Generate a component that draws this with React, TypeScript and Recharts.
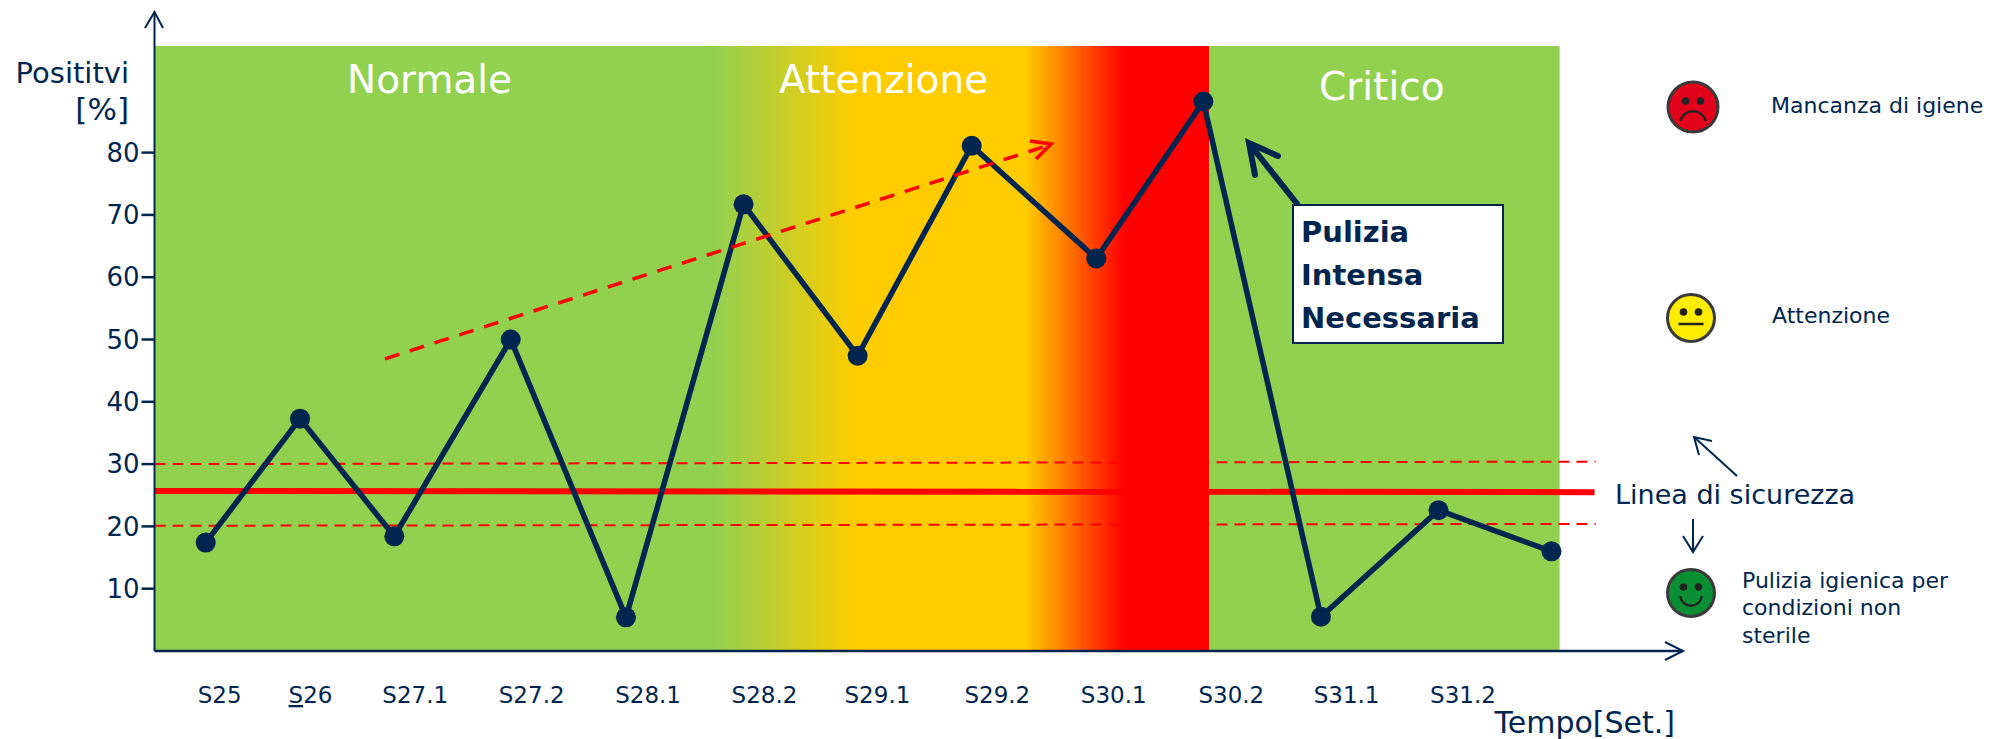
import React from 'react';
import { ComposedChart, Line, XAxis, YAxis, ReferenceArea, ReferenceLine } from 'recharts';

const NAVY = '#00264f';
const GREEN = '#92d050';
const YELLOW = '#ffcc00';
const RED = '#ff0000';
const FONT = '"DejaVu Sans", sans-serif';

const weekLabels = ['S25', 'S26', 'S27.1', 'S27.2', 'S28.1', 'S28.2', 'S29.1', 'S29.2', 'S30.1', 'S30.2', 'S31.1', 'S31.2'];
const weekTicks = [0.56, 1.34, 2.24, 3.24, 4.24, 5.24, 6.21, 7.24, 8.24, 9.25, 10.24, 11.24];

const sampleWeeks = [0.44, 1.25, 2.06, 3.06, 4.05, 5.06, 6.04, 7.02, 8.09, 9.01, 10.02, 11.03, 12.0];
const positives = [17.4, 37.3, 18.4, 50, 5.4, 71.7, 47.4, 81.1, 63, 88.2, 5.5, 22.6, 16];

const yTicks = [10, 20, 30, 40, 50, 60, 70, 80];

const trendWeeks = [1.98, 7.7];
const trendValues = [46.9, 81.3];

const samples = sampleWeeks.map((week, i) => ({ week, positive: positives[i] }));
const trend = trendWeeks.map((week, i) => ({ week, value: trendValues[i] }));

const X_MAX = 13.13;
const Y_MAX = 102.57;
const BAND_TOP = 97.1;
const BAND_SPLIT = 9.06;
const BAND_END = 12.07;

function WeekTick({ x, y, payload }: any) {
  const label = weekLabels[weekTicks.indexOf(payload.value)] ?? '';
  return (
    <text x={x} y={y + 44} textAnchor="middle" fontSize={23} fill={NAVY} fontFamily={FONT}>
      {label === 'S26' ? (
        <>
          <tspan textDecoration="underline">S</tspan>
          <tspan>26</tspan>
        </>
      ) : (
        label
      )}
    </text>
  );
}

function Face({ cx, cy, r, fill, mouth }: { cx: number; cy: number; r: number; fill: string; mouth: string }) {
  return (
    <g transform={`translate(${cx} ${cy})`}>
      <circle r={r} fill={fill} stroke="#3a3a3a" strokeWidth={3} />
      <circle cx={-7.5} cy={-6} r={3.8} fill="#222" />
      <circle cx={7.5} cy={-6} r={3.8} fill="#222" />
      <path d={mouth} fill="none" stroke="#222" strokeWidth={2.5} />
    </g>
  );
}

// zone titles, axis captions, callout box and the smiley key on the right;
// sits in its own svg because reference areas paint over chart children
function Annotations() {
  const arrow = { fill: 'none', stroke: NAVY, strokeWidth: 2 };
  return (
    <svg
      width={1998}
      height={739}
      fontFamily={FONT}
      style={{ position: 'absolute', left: 0, top: 0, pointerEvents: 'none' }}
    >
      <polyline points="145,28 154.5,12 163,28" {...arrow} />
      <polyline points="1665,642 1683,651 1665,660" {...arrow} />

      <text x={129} y={83} textAnchor="end" fontSize={29} fill={NAVY}>Posititvi</text>
      <text x={129} y={120} textAnchor="end" fontSize={31} fill={NAVY}>[%]</text>
      <text x={1675} y={733} textAnchor="end" fontSize={30} fill={NAVY}>Tempo[Set.]</text>

      <text x={347} y={93} fontSize={39} fill="#fff">Normale</text>
      <text x={779} y={93} fontSize={39} fill="#fff">Attenzione</text>
      <text x={1319} y={100} fontSize={39} fill="#fff">Critico</text>

      <polyline points="1030,141 1051,144 1036,159" fill="none" stroke={RED} strokeWidth={3.5} />

      <line x1={1298} y1={205} x2={1252} y2={147} stroke={NAVY} strokeWidth={6} />
      <polyline points="1255,175 1249,143 1278,156" fill="none" stroke={NAVY} strokeWidth={6} strokeLinecap="round" />
      <rect x={1293} y={205} width={210} height={138} fill="#fff" stroke={NAVY} strokeWidth={2} />
      <g fontSize={29} fontWeight="bold" fill={NAVY}>
        <text x={1301} y={242}>Pulizia</text>
        <text x={1301} y={285}>Intensa</text>
        <text x={1301} y={328}>Necessaria</text>
      </g>

      <Face cx={1693} cy={107} r={25} fill="#e2001a" mouth="M-13,14 C-9,1 9,1 13,14" />
      <Face cx={1691} cy={318} r={23.5} fill="#ffed00" mouth="M-12.5,6 L12.5,6" />
      <Face cx={1691} cy={593} r={23.5} fill="#0a8f35" mouth="M-11,3 C-8,16 8,16 11,3" />

      <g fontSize={22} fill={NAVY}>
        <text x={1771} y={113}>Mancanza di igiene</text>
        <text x={1772} y={323}>Attenzione</text>
        <text x={1742} y={588}>Pulizia igienica per</text>
        <text x={1742} y={615}>condizioni non</text>
        <text x={1742} y={643}>sterile</text>
      </g>
      <text x={1615} y={504} fontSize={27} fill={NAVY}>Linea di sicurezza</text>

      <line x1={1737} y1={476} x2={1694} y2={437} {...arrow} />
      <polyline points="1712,441 1694,437 1699,455" {...arrow} />
      <line x1={1693} y1={519} x2={1693} y2={552} {...arrow} />
      <polyline points="1683,536 1693,552 1703,536" {...arrow} />
    </svg>
  );
}

export default function App() {
  return (
    <div style={{ position: 'absolute', left: 0, top: 0, width: 1998, height: 739, background: '#fff' }}>
      <ComposedChart width={1998} height={739} margin={{ top: 12, right: 315, bottom: 0, left: 0 }} data={samples}>
        <defs>
          <linearGradient id="zoneFill" x1="0" y1="0" x2="1" y2="0">
            <stop offset="0.53" stopColor={GREEN} />
            <stop offset="0.665" stopColor={YELLOW} />
            <stop offset="0.826" stopColor={YELLOW} />
            <stop offset="0.92" stopColor={RED} />
          </linearGradient>
        </defs>
        <XAxis
          type="number"
          dataKey="week"
          domain={[0, X_MAX]}
          ticks={weekTicks}
          interval={0}
          height={88}
          tickLine={false}
          tick={<WeekTick />}
          axisLine={{ stroke: NAVY, strokeWidth: 2.5 }}
        />
        <YAxis
          type="number"
          width={154.5}
          domain={[0, Y_MAX]}
          ticks={yTicks}
          interval={0}
          tickSize={13}
          tickMargin={2}
          tick={{ fill: NAVY, fontSize: 26, fontFamily: FONT }}
          tickLine={{ stroke: NAVY, strokeWidth: 2.5 }}
          axisLine={{ stroke: NAVY, strokeWidth: 2 }}
        />
        <ReferenceArea x1={0} x2={BAND_SPLIT} y1={0} y2={BAND_TOP} fill="url(#zoneFill)" fillOpacity={1} stroke="none" />
        <ReferenceArea x1={BAND_SPLIT} x2={BAND_END} y1={0} y2={BAND_TOP} fill={GREEN} fillOpacity={1} stroke="none" />
        <ReferenceLine segment={[{ x: 0, y: 30 }, { x: 12.38, y: 30.4 }]} stroke={RED} strokeWidth={2} strokeDasharray="11 7" />
        <ReferenceLine segment={[{ x: 0, y: 25.7 }, { x: 12.37, y: 25.5 }]} stroke={RED} strokeWidth={6} />
        <ReferenceLine segment={[{ x: 0, y: 20.1 }, { x: 12.38, y: 20.4 }]} stroke={RED} strokeWidth={2} strokeDasharray="11 7" />
        <Line
          dataKey="positive"
          stroke={NAVY}
          strokeWidth={5.5}
          dot={{ r: 10, fill: NAVY, stroke: 'none' }}
          activeDot={false}
          isAnimationActive={false}
        />
        <Line
          data={trend}
          dataKey="value"
          stroke={RED}
          strokeWidth={3.5}
          strokeDasharray="15 11"
          dot={false}
          activeDot={false}
          isAnimationActive={false}
        />
      </ComposedChart>
      <Annotations />
    </div>
  );
}
